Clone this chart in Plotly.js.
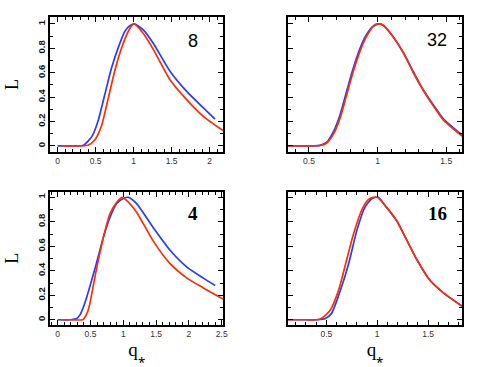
<!DOCTYPE html>
<html>
<head>
<meta charset="utf-8">
<script src="https://cdn.plot.ly/plotly-3.0.1.min.js"></script>
<style>
  body { margin: 0; padding: 0; background: #fff; }
  #plotArea { width: 491px; height: 367px; }
</style>
</head>
<body>
<div id="plotArea"></div>
<script>
// panel "8" (top left)
var x8Blue = [0, 0.2, 0.34, 0.45, 0.53, 0.62, 0.71, 0.8, 0.885, 0.95, 1.01, 1.13, 1.26, 1.48, 1.7, 1.92, 2.07];
var y8Blue = [0, 0, 0.005, 0.076, 0.2, 0.42, 0.64, 0.81, 0.94, 0.985, 1.0, 0.95, 0.84, 0.61, 0.445, 0.31, 0.22];
var x8Red = [0.05, 0.2, 0.4, 0.49, 0.58, 0.666, 0.754, 0.84, 0.93, 1.0, 1.13, 1.26, 1.48, 1.7, 1.92, 2.18];
var y8Red = [0, 0, 0.005, 0.05, 0.17, 0.39, 0.62, 0.8, 0.94, 1.0, 0.92, 0.79, 0.54, 0.377, 0.24, 0.123];

// panel "32" (top right)
var x32Blue = [0.345, 0.5, 0.58, 0.63, 0.675, 0.725, 0.765, 0.815, 0.865, 0.915, 0.965, 1.0, 1.04, 1.11, 1.19, 1.26, 1.33, 1.41, 1.48, 1.55, 1.615];
var y32Blue = [0, 0, 0.005, 0.03, 0.11, 0.25, 0.41, 0.61, 0.78, 0.905, 0.98, 1.0, 0.99, 0.9, 0.76, 0.61, 0.465, 0.33, 0.22, 0.15, 0.09];
var x32Red = [0.345, 0.5, 0.59, 0.635, 0.68, 0.73, 0.77, 0.82, 0.87, 0.92, 0.97, 1.01, 1.04, 1.11, 1.19, 1.26, 1.33, 1.41, 1.48, 1.55, 1.615];
var y32Red = [0, 0, 0.005, 0.03, 0.1, 0.24, 0.4, 0.6, 0.77, 0.9, 0.98, 1.0, 0.99, 0.9, 0.76, 0.6, 0.46, 0.32, 0.21, 0.14, 0.08];

// panel "4" (bottom left)
var x4Blue = [0, 0.2, 0.29, 0.34, 0.39, 0.44, 0.49, 0.59, 0.7, 0.8, 0.9, 1.0, 1.08, 1.2, 1.46, 1.71, 1.97, 2.22, 2.4];
var y4Blue = [0, 0, 0.01, 0.04, 0.1, 0.18, 0.27, 0.46, 0.68, 0.84, 0.95, 0.99, 1.0, 0.95, 0.75, 0.57, 0.43, 0.34, 0.28];
var x4Red = [0.05, 0.2, 0.38, 0.42, 0.46, 0.49, 0.54, 0.59, 0.7, 0.8, 0.9, 0.98, 1.05, 1.2, 1.46, 1.71, 1.97, 2.22, 2.52];
var y4Red = [0, 0, 0, 0.025, 0.07, 0.13, 0.27, 0.41, 0.68, 0.87, 0.96, 1.0, 0.975, 0.88, 0.64, 0.46, 0.34, 0.26, 0.17];

// panel "16" (bottom right)
var x16Blue = [0.12, 0.3, 0.42, 0.49, 0.55, 0.63, 0.72, 0.8, 0.88, 0.95, 1.01, 1.09, 1.19, 1.29, 1.39, 1.52, 1.65, 1.835];
var y16Blue = [0, 0, 0, 0.01, 0.05, 0.22, 0.46, 0.73, 0.92, 0.99, 1.0, 0.92, 0.81, 0.65, 0.49, 0.32, 0.22, 0.11];
var x16Red = [0.12, 0.3, 0.4, 0.45, 0.54, 0.62, 0.7, 0.76, 0.85, 0.91, 0.96, 1.0, 1.09, 1.19, 1.29, 1.39, 1.52, 1.65, 1.835];
var y16Red = [0, 0, 0, 0.01, 0.08, 0.24, 0.49, 0.68, 0.9, 0.98, 1.0, 1.0, 0.92, 0.81, 0.65, 0.49, 0.32, 0.22, 0.11];

var panelLabels = ["8", "32", "4", "16"];
var blue = "rgb(40,60,255)";
var red = "rgb(255,45,0)";

function curve(x, y, color, xa, ya) {
  return {x: x, y: y, type: "scatter", mode: "lines", xaxis: xa, yaxis: ya,
          line: {color: color, width: 1.7, shape: "spline", smoothing: 0.6}, hoverinfo: "skip"};
}

var data = [
  curve(x8Blue, y8Blue, blue, "x", "y"),
  curve(x8Red, y8Red, red, "x", "y"),
  curve(x32Blue, y32Blue, blue, "x2", "y2"),
  curve(x32Red, y32Red, red, "x2", "y2"),
  curve(x4Blue, y4Blue, blue, "x3", "y3"),
  curve(x4Red, y4Red, red, "x3", "y3"),
  curve(x16Blue, y16Blue, blue, "x4", "y4"),
  curve(x16Red, y16Red, red, "x4", "y4")
];

function xAxis(dom, range, dtick, anchor, withTitle) {
  var a = {
    domain: dom, range: range, anchor: anchor, dtick: dtick, tick0: 0,
    showline: true, linecolor: "#000", linewidth: 1.5, mirror: "allticks",
    ticks: "inside", ticklen: 5, tickwidth: 1, tickcolor: "#000",
    minor: {dtick: 0.1, tick0: 0, ticks: "inside", ticklen: 3, tickcolor: "#000"},
    showgrid: false, zeroline: false,
    tickfont: {family: "Liberation Sans, Arial", size: 8.5, color: "#333"}
  };
  if (withTitle) {
    a.title = {text: "q<sub>⁎</sub>", standoff: 5,
               font: {family: "Liberation Serif, Times New Roman", size: 19, color: "#000"}};
  }
  return a;
}

function yAxis(dom, range, anchor, withLabels) {
  return {
    domain: dom, range: range, anchor: anchor, dtick: 0.2, tick0: 0,
    showline: true, linecolor: "#000", linewidth: 1.5, mirror: "allticks",
    ticks: "inside", ticklen: 5, tickwidth: 1, tickcolor: "#000",
    minor: {dtick: 0.1, tick0: 0, ticks: "inside", ticklen: 3, tickcolor: "#000"},
    showgrid: false, zeroline: false, showticklabels: withLabels,
    tickangle: -90,
    tickfont: {family: "Liberation Sans, Arial", size: 9.5, color: "#111", weight: "bold"},
    title: withLabels ? {text: "L", standoff: 12,
      font: {family: "Liberation Serif, Times New Roman", size: 18, color: "#000"}} : {text: ""}
  };
}

var leftDom = [0.1018, 0.4542];
var rightDom = [0.586, 0.941];
var topDom = [0.5858, 0.9537];
var botDom = [0.1144, 0.4777];

var sansLabel = {family: "Liberation Sans, Arial", size: 18, color: "#000"};
var serifLabel = {family: "Liberation Serif, Times New Roman", size: 19, color: "#000", weight: "bold"};

function panelLabel(i, xr, yr, x, y, font) {
  return {text: panelLabels[i], xref: xr, yref: yr, x: x, y: y, showarrow: false,
          xanchor: "center", yanchor: "middle", font: font};
}

var layout = {
  width: 491, height: 367,
  margin: {l: 0, r: 0, t: 0, b: 0},
  showlegend: false,
  paper_bgcolor: "#fff", plot_bgcolor: "#fff",
  xaxis: xAxis(leftDom, [-0.1, 2.175], 0.5, "y", false),
  yaxis: yAxis(topDom, [-0.05, 1.057], "x", true),
  xaxis2: xAxis(rightDom, [0.345, 1.615], 0.5, "y2", false),
  yaxis2: yAxis(topDom, [-0.05, 1.057], "x2", false),
  xaxis3: xAxis(leftDom, [-0.117, 2.52], 0.5, "y3", true),
  yaxis3: yAxis(botDom, [-0.043, 1.046], "x3", true),
  xaxis4: xAxis(rightDom, [0.121, 1.833], 0.5, "y4", true),
  yaxis4: yAxis(botDom, [-0.043, 1.046], "x4", false),
  annotations: [
    panelLabel(0, "x domain", "y domain", 0.827, 0.822, sansLabel),
    panelLabel(1, "x2 domain", "y2 domain", 0.857, 0.83, sansLabel),
    panelLabel(2, "x3 domain", "y3 domain", 0.828, 0.838, serifLabel),
    panelLabel(3, "x4 domain", "y4 domain", 0.86, 0.833, serifLabel)
  ]
};

Plotly.newPlot("plotArea", data, layout, {staticPlot: true});
</script>
</body>
</html>
